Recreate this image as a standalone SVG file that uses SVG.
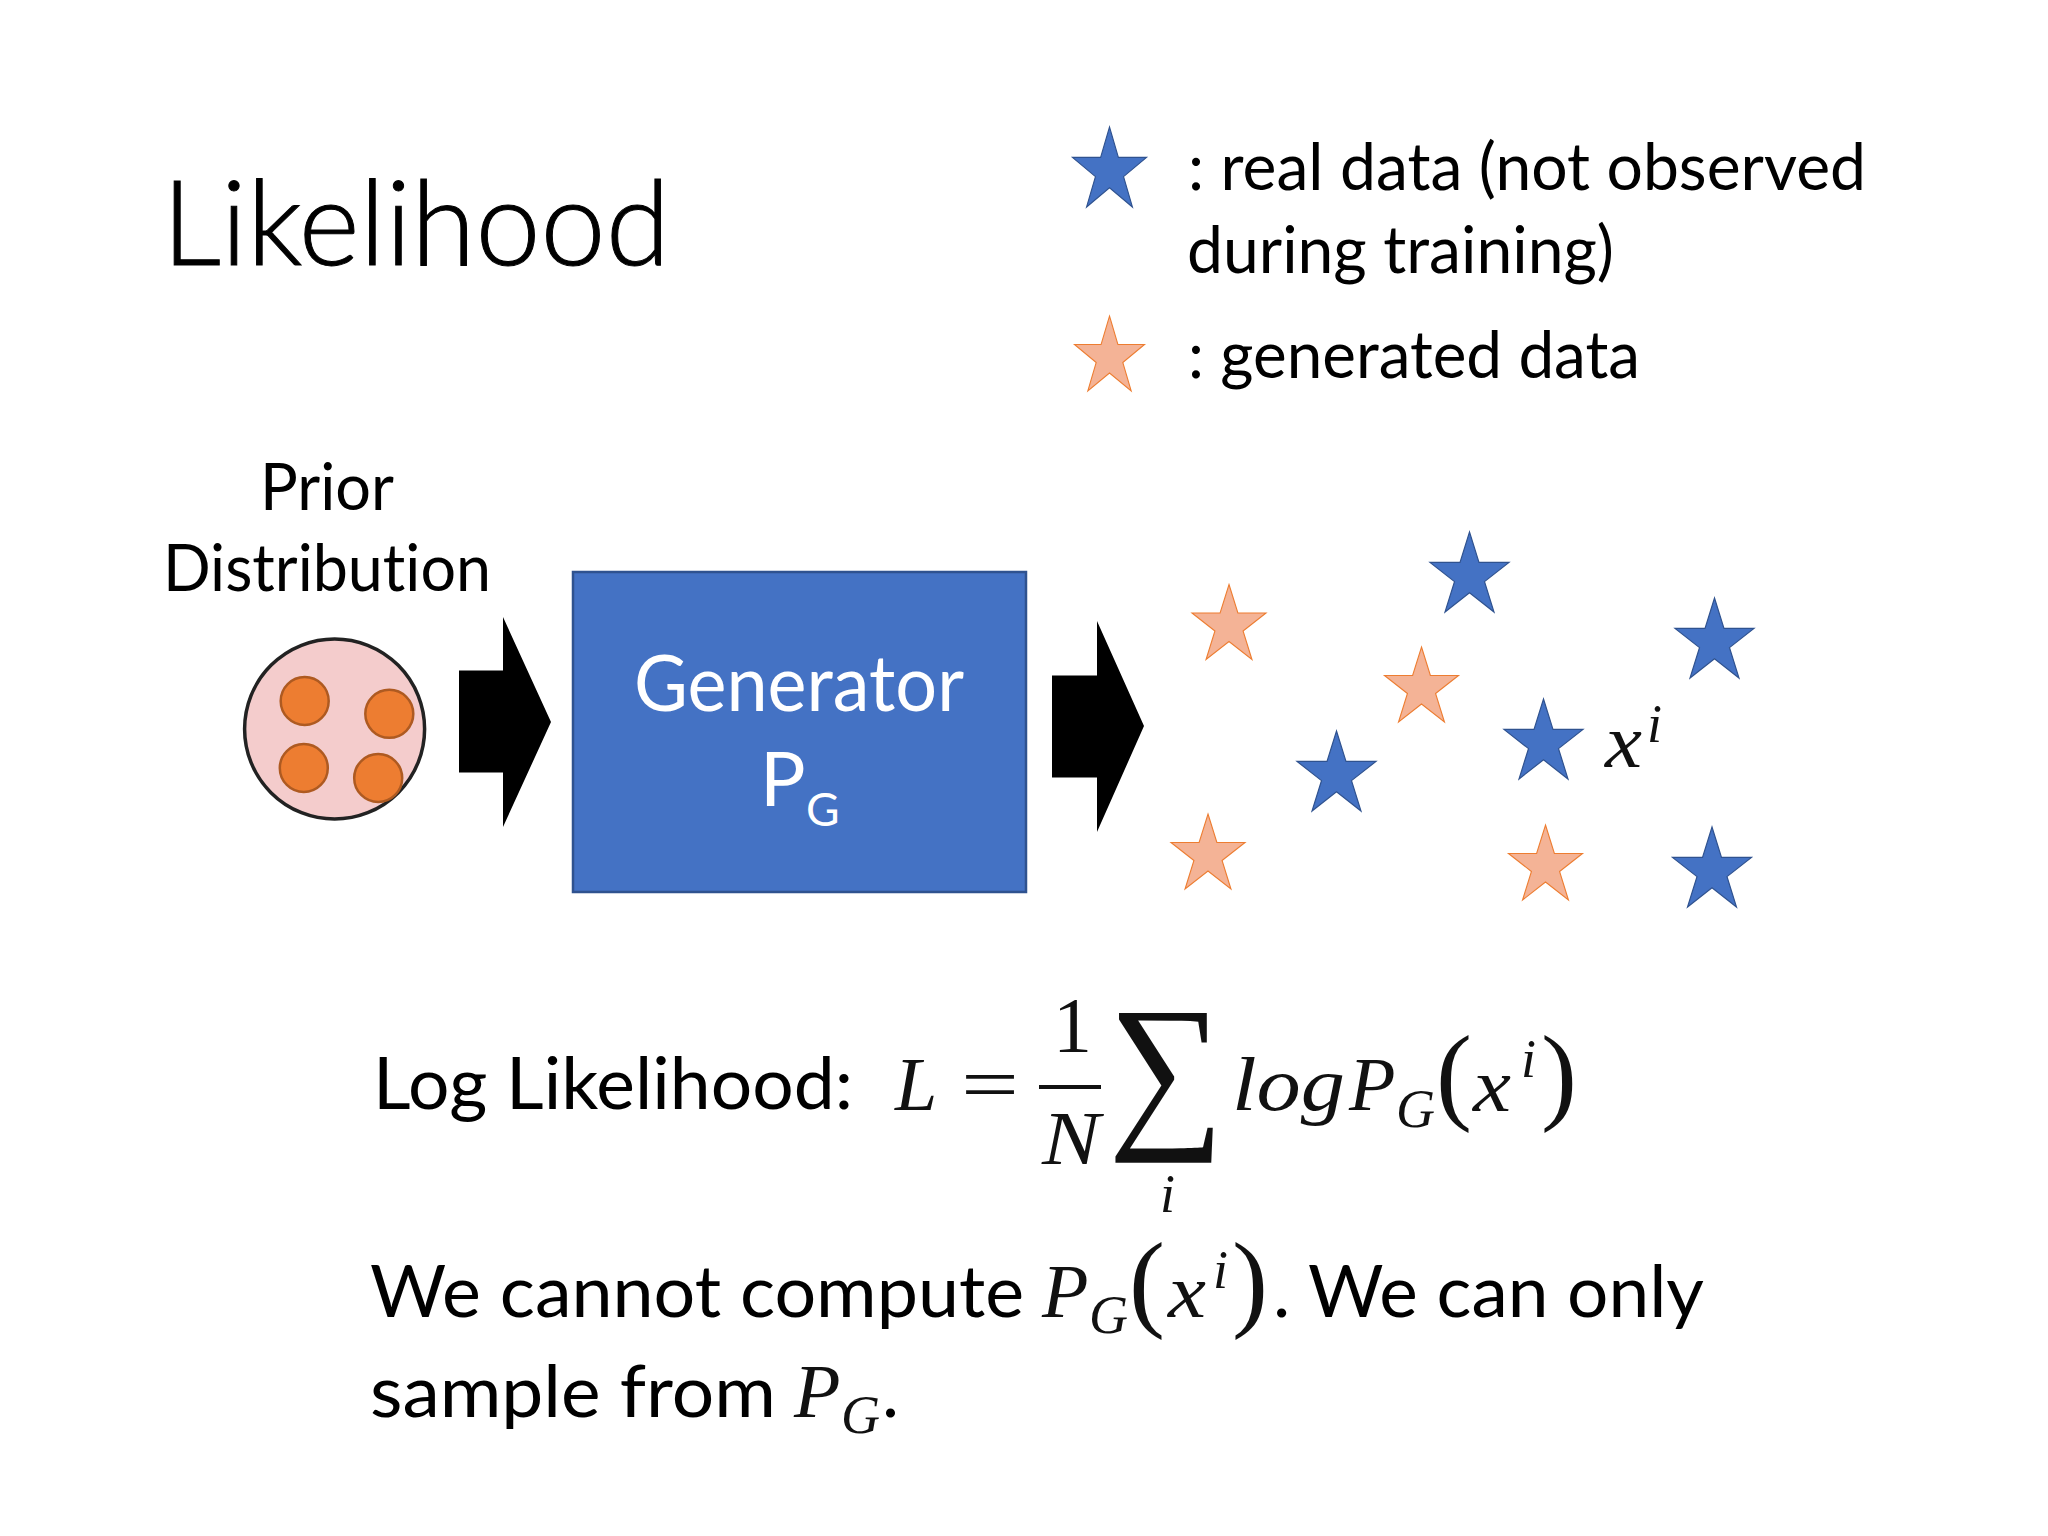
<svg xmlns="http://www.w3.org/2000/svg" width="2048" height="1536" viewBox="0 0 2048 1536">
<style>
text{font-variant-ligatures:none}
.t{font-family:"Lato","Carlito","Noto Sans",sans-serif;fill:#000;font-size:66px}
.u{font-size:72px}
.w{fill:#fff;font-size:78px}
.m{font-family:"Liberation Serif","DejaVu Serif",serif;font-style:italic;fill:#111;font-size:76px}
.r{font-style:normal}
.sub{font-size:54px}
.p{font-size:108px}
.b{fill:#4472C4;stroke:#2F528F;stroke-width:1.5;vector-effect:non-scaling-stroke}
.o{fill:#F4B396;stroke:#ED7D31;stroke-width:1.5;vector-effect:non-scaling-stroke}
.d{fill:#ED7D31;stroke:#AE5A21;stroke-width:2.5}
</style>
<defs>
<polygon id="star" points="50,0 62,38 100,38 69,62 81,100 50,76 19,100 31,62 0,38 38,38"/>
</defs>
<rect width="2048" height="1536" fill="#fff"/>
<g id="title"><text class="t" x="162" y="265" style="font-size:118px;font-weight:300;stroke:#000;stroke-width:1" textLength="508" lengthAdjust="spacingAndGlyphs">Likelihood</text></g>
<g id="legend">
<use href="#star" class="b" transform="translate(1072.5 127) scale(.74 .8)"/>
<text class="t" x="1188" y="190" textLength="678" lengthAdjust="spacingAndGlyphs">: real data (not observed</text>
<text class="t" x="1187" y="273" textLength="427" lengthAdjust="spacingAndGlyphs">during training)</text>
<use href="#star" class="o" transform="translate(1074.5 316) scale(.7 .75)"/>
<text class="t" x="1188" y="378" textLength="452" lengthAdjust="spacingAndGlyphs">: generated data</text>
</g>
<g id="prior">
<text class="t" x="260" y="510" textLength="134" lengthAdjust="spacingAndGlyphs">Prior</text>
<text class="t" x="163" y="591" textLength="328" lengthAdjust="spacingAndGlyphs">Distribution</text>
<circle cx="334.6" cy="729" r="90" fill="#F4CCCC" stroke="#222" stroke-width="3.5"/>
<circle class="d" cx="304.7" cy="701" r="24"/>
<circle class="d" cx="389.3" cy="713.8" r="24"/>
<circle class="d" cx="303.8" cy="768" r="24"/>
<circle class="d" cx="378.2" cy="778" r="24"/>
</g>
<g id="connectors">
<polygon points="459,670.5 503,670.5 503,617 551,722 503,827 503,772.5 459,772.5" fill="#000"/>
<polygon points="1052,675.5 1097,675.5 1097,621 1144,726 1097,832 1097,777.5 1052,777.5" fill="#000"/>
</g>
<g id="generator">
<rect x="573" y="572" width="453" height="320" fill="#4472C4" stroke="#2F528F" stroke-width="2.5"/>
<text class="t w" x="634" y="711" textLength="330" lengthAdjust="spacingAndGlyphs">Generator</text>
<text class="t w" x="760" y="806" style="font-size:76px">P<tspan x="806" y="826" style="font-size:46px">G</tspan></text>
</g>
<g id="stars-real">
<use href="#star" class="b" transform="translate(1430 532) scale(.79 .8)"/>
<use href="#star" class="b" transform="translate(1675 598) scale(.79 .8)"/>
<use href="#star" class="b" transform="translate(1504 699) scale(.79 .8)"/>
<use href="#star" class="b" transform="translate(1297 731) scale(.79 .8)"/>
<use href="#star" class="b" transform="translate(1672.5 827) scale(.79 .8)"/>
</g>
<g id="stars-generated">
<use href="#star" class="o" transform="translate(1192 584.5) scale(.74 .75)"/>
<use href="#star" class="o" transform="translate(1384.5 647) scale(.74 .75)"/>
<use href="#star" class="o" transform="translate(1171 814) scale(.74 .75)"/>
<use href="#star" class="o" transform="translate(1508.5 825) scale(.74 .75)"/>
</g>
<g id="xi-label">
<text class="m" x="1605" y="767" textLength="37" lengthAdjust="spacingAndGlyphs">x</text>
<text class="m sub" x="1647" y="742">i</text>
</g>
<g id="log-likelihood">
<text class="t u" x="373" y="1109" textLength="480" lengthAdjust="spacingAndGlyphs">Log Likelihood:</text>
<text class="m" x="895" y="1110">L</text>
<text class="m r" x="961" y="1110" textLength="58" lengthAdjust="spacingAndGlyphs">=</text>
<text class="m r" x="1053" y="1051" style="font-size:78px">1</text>
<rect x="1039" y="1085" width="62" height="4" fill="#111"/>
<text class="m" x="1042" y="1164" textLength="58" lengthAdjust="spacingAndGlyphs">N</text>
<text class="m r" x="1108" y="1126" style="font-size:173px" textLength="116" lengthAdjust="spacingAndGlyphs">∑</text>
<text class="m sub" x="1160" y="1212">i</text>
<text class="m" x="1232" y="1110" textLength="113" lengthAdjust="spacingAndGlyphs">log</text>
<text class="m" x="1349" y="1110">P<tspan class="sub" x="1396" y="1127">G</tspan></text>
<text class="m r p" x="1436" y="1110">(</text>
<text class="m" x="1473" y="1111" textLength="38" lengthAdjust="spacingAndGlyphs">x</text>
<text class="m sub" x="1521" y="1077">i</text>
<text class="m r p" x="1541" y="1110">)</text>
</g>
<g id="note">
<text class="t u" x="370" y="1317" textLength="654" lengthAdjust="spacingAndGlyphs">We cannot compute</text>
<text class="m" x="1042" y="1317">P<tspan class="sub" x="1089" y="1333">G</tspan></text>
<text class="m r p" x="1129" y="1317">(</text>
<text class="m" x="1168" y="1317" textLength="38" lengthAdjust="spacingAndGlyphs">x</text>
<text class="m sub" x="1213" y="1288">i</text>
<text class="m r p" x="1232" y="1317">)</text>
<text class="t u" x="1273" y="1317" textLength="431" lengthAdjust="spacingAndGlyphs">. We can only</text>
<text class="t u" x="370" y="1417" textLength="406" lengthAdjust="spacingAndGlyphs">sample from</text>
<text class="m" x="794" y="1417">P<tspan class="sub" x="841" y="1433">G</tspan></text>
<text class="t u" x="882" y="1417">.</text>
</g>
</svg>
